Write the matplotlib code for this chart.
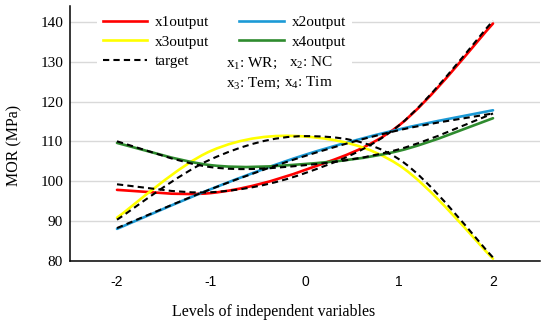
import matplotlib
matplotlib.use('Agg')
import matplotlib.pyplot as plt
from matplotlib.path import Path
from matplotlib.patches import PathPatch
from matplotlib.lines import Line2D

# levels of the independent variables
levels = [-2, -1, 0, 1, 2]

# model outputs (MOR, MPa)
x1_output = [97.8, 97.0, 102.8, 114.0, 139.6]
x2_output = [88.0, 98.0, 106.6, 113.0, 117.8]
x3_output = [90.8, 107.6, 111.2, 104.0, 80.5]
x4_output = [109.6, 104.0, 104.3, 107.6, 115.8]

# targets
x1_target = [99.2, 97.2, 102.0, 114.0, 140.3]
x2_target = [88.2, 98.0, 106.3, 112.8, 117.0]
x3_target = [90.3, 105.5, 111.3, 105.5, 80.8]
x4_target = [110.0, 103.5, 104.0, 108.0, 117.0]

serif = 'Liberation Serif'
plt.rcParams['axes.unicode_minus'] = False
plt.rcParams['mathtext.fontset'] = 'custom'
plt.rcParams['mathtext.rm'] = serif
plt.rcParams['mathtext.it'] = serif


def smooth_path(x, y):
    """Excel-style smoothed line (Catmull-Rom as cubic Bezier)."""
    pts = list(zip(x, y))
    verts = [pts[0]]
    codes = [Path.MOVETO]
    n = len(pts)
    for i in range(n - 1):
        p0 = pts[max(i - 1, 0)]
        p1 = pts[i]
        p2 = pts[i + 1]
        p3 = pts[min(i + 2, n - 1)]
        c1 = (p1[0] + (p2[0] - p0[0]) / 6, p1[1] + (p2[1] - p0[1]) / 6)
        c2 = (p2[0] - (p3[0] - p1[0]) / 6, p2[1] - (p3[1] - p1[1]) / 6)
        verts += [c1, c2, p2]
        codes += [Path.CURVE4] * 3
    return Path(verts, codes)


fig = plt.figure(figsize=(5.5, 3.25), dpi=100)
ax = fig.add_axes([70 / 550, 1 - 260.7 / 325, 470 / 550, 254.7 / 325])

lw = 1.9
series = [(x1_output, '#FF0000', 'x1output'),
          (x2_output, '#1C9AD6', 'x2output'),
          (x3_output, '#FFFF00', 'x3output'),
          (x4_output, '#2E8B2E', 'x4output')]
handles = {}
for ys, col, name in series:
    ax.add_patch(PathPatch(smooth_path(levels, ys), fill=False, edgecolor=col,
                           lw=lw, capstyle='round', zorder=2))
    handles[name] = Line2D([], [], color=col, lw=lw)
for tgt in [x1_target, x2_target, x3_target, x4_target]:
    ax.add_patch(PathPatch(smooth_path(levels, tgt), fill=False, edgecolor='black',
                           lw=1.5, ls=(0, (3, 2)), zorder=3))
handles['target'] = Line2D([], [], color='black', lw=1.5, ls=(0, (3, 2)))

ax.set_xlim(-2.5, 2.5)
ax.set_ylim(80, 144)
ax.set_yticks(range(80, 141, 10))
ax.set_xticks(levels)
ax.grid(axis='y', color='#D9D9D9', lw=1)
ax.set_axisbelow(True)
for s in ['top', 'right']:
    ax.spines[s].set_visible(False)
ax.spines['left'].set_linewidth(1.1)
ax.spines['bottom'].set_linewidth(1.1)
ax.tick_params(axis='both', length=0)
ax.tick_params(axis='y', pad=5)
ax.tick_params(axis='x', pad=10)
for t in ax.get_yticklabels():
    t.set_fontfamily(serif)
    t.set_fontsize(11)
for t in ax.get_xticklabels():
    t.set_fontfamily('Liberation Sans')
    t.set_fontsize(10)

order = ['x1output', 'x3output', 'target', 'x2output', 'x4output']
leg = ax.legend([handles[k] for k in order], order,
                ncol=2, loc='upper left', bbox_to_anchor=(0.05, 1.0),
                prop={'family': serif, 'size': 11}, frameon=True,
                fancybox=False, edgecolor='none', facecolor='white', framealpha=1,
                handlelength=2.9, handletextpad=0.5, columnspacing=2.0,
                labelspacing=0.4, borderpad=0.4, borderaxespad=0.2)

# white strip behind the notes, hiding the gridline like the original
fig.patches.append(plt.Rectangle((220 / 550, 1 - 92 / 325), 124 / 550, 38 / 325,
                                 transform=fig.transFigure, facecolor='white',
                                 edgecolor='none', zorder=9))
notes = [(226, 63, 'x$_1$: WR;', 'left'), (333, 63, 'x$_2$: NC', 'right'),
         (226, 83, 'x$_3$: Tem;', 'left'), (333, 83, 'x$_4$: Tim', 'right')]
for px, py, s, ha in notes:
    fig.text(px / 550, 1 - py / 325, s, family=serif, fontsize=11,
             va='center', ha=ha, zorder=10)

fig.text(274 / 550, 1 - 312 / 325, 'Levels of independent variables',
         family=serif, fontsize=11.5, ha='center', va='center')
fig.text(14 / 550, 1 - 145 / 325, 'MOR (MPa)', family=serif, fontsize=11.5,
         rotation=90, ha='center', va='center')

fig.savefig('out.png', dpi=100)
